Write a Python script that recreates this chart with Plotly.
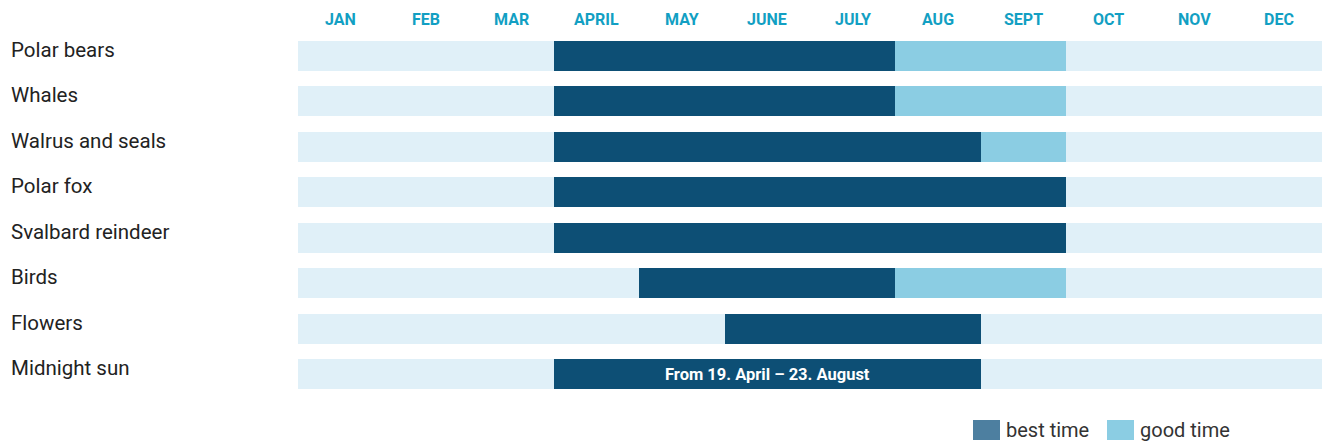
import plotly.graph_objects as go

# Seasons for wildlife and nature on Svalbard (months as 0 = start of January)
activities = ["Polar bears", "Whales", "Walrus and seals", "Polar fox",
              "Svalbard reindeer", "Birds", "Flowers", "Midnight sun"]
best_start = [3, 3, 3, 3, 3, 4, 5, 3]
best_end = [7, 7, 8, 9, 9, 7, 8, 8]
good_start = [7, 7, 8, None, None, 7, None, None]
good_end = [9, 9, 9, None, None, 9, None, None]
months = ["JAN", "FEB", "MAR", "APRIL", "MAY", "JUNE", "JULY", "AUG",
          "SEPT", "OCT", "NOV", "DEC"]
sun_note = "From 19. April – 23. August"

W, H = 1322, 441
LEFT = 298
ROW_PX = 45.43
FIRST_ROW_PX = 56

DARK = "#0d4f75"
LIGHT = "#8bcde3"
TRACK = "#e0f0f8"
MONTH_COLOR = "#129fc3"
TEXT = "#222222"
FONT = "Roboto"

rows = list(range(len(activities)))
good_rows = [r for r in rows if good_start[r] is not None]

fig = go.Figure()
# full-year track behind every row
fig.add_trace(go.Bar(
    y=rows, x=[len(months)] * len(rows), base=[0] * len(rows),
    orientation="h", marker=dict(color=TRACK, line=dict(width=0)),
    width=0.66, hoverinfo="skip", showlegend=False))
# good time
fig.add_trace(go.Bar(
    y=good_rows,
    x=[good_end[r] - good_start[r] for r in good_rows],
    base=[good_start[r] for r in good_rows],
    orientation="h", marker=dict(color=LIGHT, line=dict(width=0)),
    width=0.66, name="good time", showlegend=False))
# best time
fig.add_trace(go.Bar(
    y=rows, x=[e - s for s, e in zip(best_start, best_end)], base=best_start,
    orientation="h", marker=dict(color=DARK, line=dict(width=0)),
    width=0.66, name="best time", showlegend=False))

y_top = -FIRST_ROW_PX / ROW_PX
y_bottom = y_top + H / ROW_PX
annotations = []
# month headers
for i, m in enumerate(months):
    annotations.append(dict(
        x=i + 0.5, y=y_top + 19 / ROW_PX, xref="x", yref="y", text=m,
        showarrow=False, xanchor="center", yanchor="middle",
        font=dict(family=FONT, size=16, color=MONTH_COLOR, weight="bold")))
# row labels
for r, name in zip(rows, activities):
    annotations.append(dict(
        x=(9 - LEFT) / (W - LEFT), y=r, xref="paper", yref="y", text=name,
        showarrow=False, xanchor="left", yanchor="middle", yshift=6,
        font=dict(family=FONT, size=20.5, color=TEXT)))
# note inside the midnight sun bar
sun = activities.index("Midnight sun")
annotations.append(dict(
    x=(best_start[sun] + best_end[sun]) / 2, y=sun, xref="x", yref="y",
    text=sun_note, showarrow=False, xanchor="center", yanchor="middle",
    font=dict(family=FONT, size=16.5, color="white", weight="bold")))


def px_x(p):
    return (p - LEFT) / (W - LEFT)


def px_y(p):
    return 1 - p / H


# legend drawn as swatches + labels
shapes = []
legend_items = [("best time", "#4d7fa0", 973, 1004), ("good time", LIGHT, 1107, 1138)]
for label, color, sx, tx in legend_items:
    shapes.append(dict(type="rect", xref="paper", yref="paper",
                       x0=px_x(sx), x1=px_x(sx + 27), y0=px_y(440), y1=px_y(420),
                       fillcolor=color, line=dict(width=0)))
    annotations.append(dict(
        x=px_x(tx), y=px_y(430), xref="paper", yref="paper", text=label,
        showarrow=False, xanchor="left", yanchor="middle",
        font=dict(family=FONT, size=20, color="#333333")))

fig.update_layout(
    width=W, height=H,
    margin=dict(l=LEFT, r=0, t=0, b=0),
    paper_bgcolor="white", plot_bgcolor="white",
    barmode="overlay", bargap=0,
    xaxis=dict(range=[0, len(months)], visible=False, fixedrange=True),
    yaxis=dict(range=[y_bottom, y_top], visible=False, fixedrange=True),
    annotations=annotations, shapes=shapes, showlegend=False)

fig.write_html("out.html")
